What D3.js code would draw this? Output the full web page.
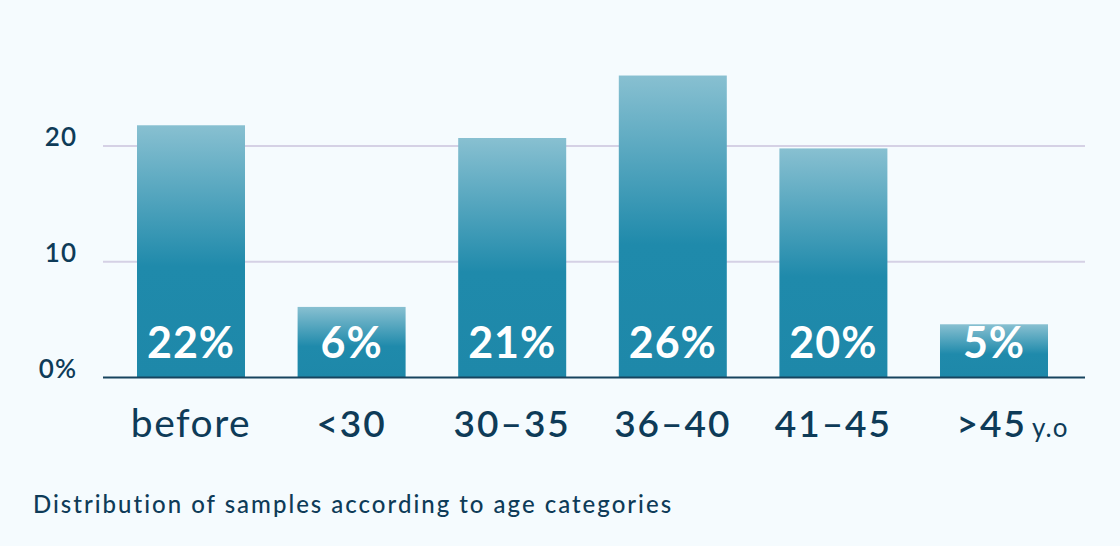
<!DOCTYPE html>
<html><head><meta charset="utf-8">
<script src="https://cdn.jsdelivr.net/npm/d3@7"></script>
<style>
html,body{margin:0;padding:0;background:#f5fbfe;}
svg{display:block;}
text{font-family:Lato,"Noto Sans",sans-serif;}
</style></head>
<body>
<script>
const categories = ["before", "<30", "30–35", "36–40", "41–45", ">45"];
const values = [21.8, 6.1, 20.7, 26.1, 19.8, 4.6];
const valueLabels = ["22%", "6%", "21%", "26%", "20%", "5%"];
const yTicks = [0, 10, 20];
const yTickLabels = ["0%", "10", "20"];
const caption = "Distribution of samples according to age categories";
const unitSuffix = "y.o";

const W = 1120, H = 546;
const svg = d3.select("body").append("svg").attr("width", W).attr("height", H);
svg.append("rect").attr("width", W).attr("height", H).attr("fill", "#f5fbfe");

const defs = svg.append("defs");
const grad = defs.append("linearGradient").attr("id", "barGrad")
  .attr("x1", 0).attr("y1", 0).attr("x2", 0).attr("y2", 1);
grad.append("stop").attr("offset", "0%").attr("stop-color", "#88c0d1");
grad.append("stop").attr("offset", "56%").attr("stop-color", "#1f8aab");
grad.append("stop").attr("offset", "100%").attr("stop-color", "#1e88a9");

const x = d3.scaleBand().domain(categories).range([137, 1048])
  .paddingInner(0.3275).paddingOuter(0);
const y = d3.scaleLinear().domain([0, 30]).range([377.5, 30.4]);

// gridlines
svg.append("g").selectAll("line").data(yTicks.filter(d => d > 0)).join("line")
  .attr("x1", 103).attr("x2", 1085)
  .attr("y1", d => y(d)).attr("y2", d => y(d))
  .attr("stroke", "#d5d1e5").attr("stroke-width", 2);

// y tick labels
svg.append("g").selectAll("text").data(yTicks).join("text")
  .attr("x", 77).attr("y", d => y(d) + (d === 0 ? 0.5 : 0))
  .attr("text-anchor", "end")
  .attr("font-size", 26).attr("font-weight", 600).attr("fill", "#0e3b58")
  .attr("letter-spacing", 1)
  .text((d, i) => yTickLabels[i]);

// bars
svg.append("g").selectAll("rect").data(values).join("rect")
  .attr("x", (d, i) => x(categories[i]))
  .attr("width", x.bandwidth())
  .attr("y", d => y(d))
  .attr("height", d => y(0) - y(d))
  .attr("fill", "url(#barGrad)");

// baseline
svg.append("line").attr("x1", 103).attr("x2", 1085)
  .attr("y1", y(0)).attr("y2", y(0))
  .attr("stroke", "#17445f").attr("stroke-width", 2);

// value labels
svg.append("g").selectAll("text").data(valueLabels).join("text")
  .attr("x", (d, i) => x(categories[i]) + x.bandwidth() / 2)
  .attr("y", 358)
  .attr("text-anchor", "middle")
  .attr("font-size", 43).attr("font-weight", 700).attr("fill", "#ffffff")
  .attr("letter-spacing", 1)
  .text(d => d);

// category labels
const cat = svg.append("g").selectAll("text").data(categories).join("text")
  .attr("y", 437)
  .attr("text-anchor", "start")
  .attr("font-size", (d, i) => i === 0 ? 39 : 37)
  .attr("font-weight", (d, i) => i === 0 ? 400 : 600)
  .attr("letter-spacing", (d, i) => i === 0 ? 1.5 : 2)
  .attr("fill", "#0e3b58");
cat.each(function(d, i) {
  const t = d3.select(this);
  const cx = x(d) + x.bandwidth() / 2;
  if (i === categories.length - 1) {
    t.append("tspan").text(d);
    t.append("tspan").attr("font-size", 26).attr("font-weight", 400)
      .attr("letter-spacing", 1).attr("dx", 5).text(unitSuffix);
  } else {
    t.text(d);
  }
  const w = this.getComputedTextLength();
  const shift = i === categories.length - 1 ? 16 : 0;
  t.attr("x", cx + shift - w / 2);
});

// caption
svg.append("text").attr("x", 33).attr("y", 513)
  .attr("font-size", 24).attr("font-weight", 500).attr("fill", "#0e3b58")
  .attr("letter-spacing", 2)
  .text(caption);
</script>
</body></html>
